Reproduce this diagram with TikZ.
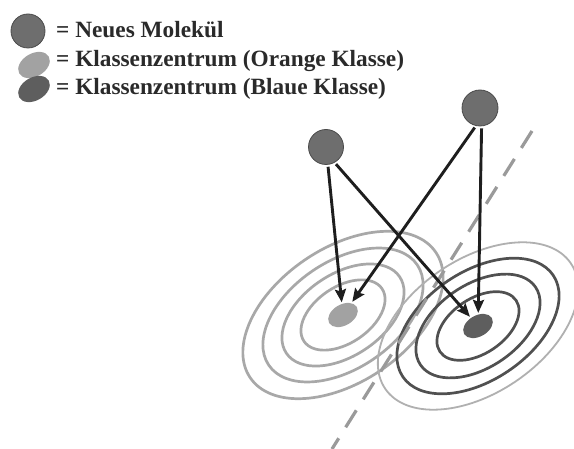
\documentclass[tikz,border=0pt]{standalone}
\usepackage{fontspec}
\setmainfont{Liberation Serif}
\usetikzlibrary{arrows.meta,shapes.geometric}
\definecolor{molfill}{HTML}{6E6E6E}
\definecolor{moledge}{HTML}{4A4A4A}
\definecolor{orfill}{HTML}{A2A2A2}
\definecolor{blfill}{HTML}{5E5E5E}
\definecolor{orring}{HTML}{A8A8A8}
\definecolor{blring}{HTML}{505050}
\definecolor{blouter}{HTML}{B0B0B0}
\definecolor{arrcol}{HTML}{1E1E1E}
\definecolor{dashcol}{HTML}{9A9A9A}
\definecolor{txtcol}{HTML}{2A2A2A}
\tikzset{
  molecule/.style={circle, fill=molfill, draw=moledge, line width=0.8pt, inner sep=0pt},
  center blob/.style={ellipse, inner sep=0pt, minimum width=32pt, minimum height=21pt, rotate=30},
  legtext/.style={anchor=base west, inner sep=0pt, text=txtcol, font=\bfseries\fontsize{23.3}{27}\selectfont},
  arr/.style={draw=arrcol, line width=2.9pt, -{Stealth[length=13pt,width=11pt,inset=2pt]}, shorten <=2pt, shorten >=1.5pt},
  orring/.style={draw=orring, line width=2.7pt},
  blring/.style={draw=blring, line width=2.7pt},
  blouter/.style={draw=blouter, line width=1.8pt},
  divider/.style={draw=dashcol, line width=3.2pt, dash pattern=on 20pt off 13pt}
}
\begin{document}
\begin{tikzpicture}[x=1pt,y=-1pt]
\useasboundingbox[fill=white] (0,0) rectangle (574,449);
% legend
\node[molecule, minimum size=34pt] (legmol) at (28,31) {};
\node[center blob, fill=orfill, minimum width=34pt, minimum height=23pt] (legor) at (34,65) {};
\node[center blob, fill=blfill, minimum width=34pt, minimum height=23pt] (legbl) at (34,89) {};
\node[legtext] (t1) at (56,38) {= Neues Molekül};
\node[legtext] (t2) at (56,67) {= Klassenzentrum (Orange Klasse)};
\node[legtext] (t3) at (56,95) {= Klassenzentrum (Blaue Klasse)};
% orange class contours
\coordinate (oc0) at (343,315);
\foreach \s in {1,0.8,0.61,0.42}{
  \draw[orring, rotate around={34:(oc0)}] (oc0) ellipse [x radius=112*\s, y radius=67*\s];
}
% blue class contours
\coordinate (bc0) at (478,326);
\draw[blouter, rotate around={34:(bc0)}] (bc0) ellipse [x radius=112, y radius=67];
\foreach \s in {0.81,0.62,0.41}{
  \draw[blring, rotate around={34:(bc0)}] (bc0) ellipse [x radius=112*\s, y radius=67*\s];
}
% dashed separator
\coordinate (d1) at (532,131);
\coordinate (d2) at (332,449);
\draw[divider] (d1) -- (d2);
% class centres
\node[center blob, fill=orfill] (oc) at (oc0) {};
\node[center blob, fill=blfill] (bc) at (bc0) {};
% new molecules
\node[molecule, minimum size=35pt] (m1) at (326,147) {};
\node[molecule, minimum size=36pt] (m2) at (480,108) {};
% arrows
\draw[arr] (m1.-84) -- (oc);
\draw[arr] (m1.-61) -- (bc);
\draw[arr] (m2.-103) -- (oc);
\draw[arr] (m2.-85) -- (bc);
\end{tikzpicture}
\end{document}
